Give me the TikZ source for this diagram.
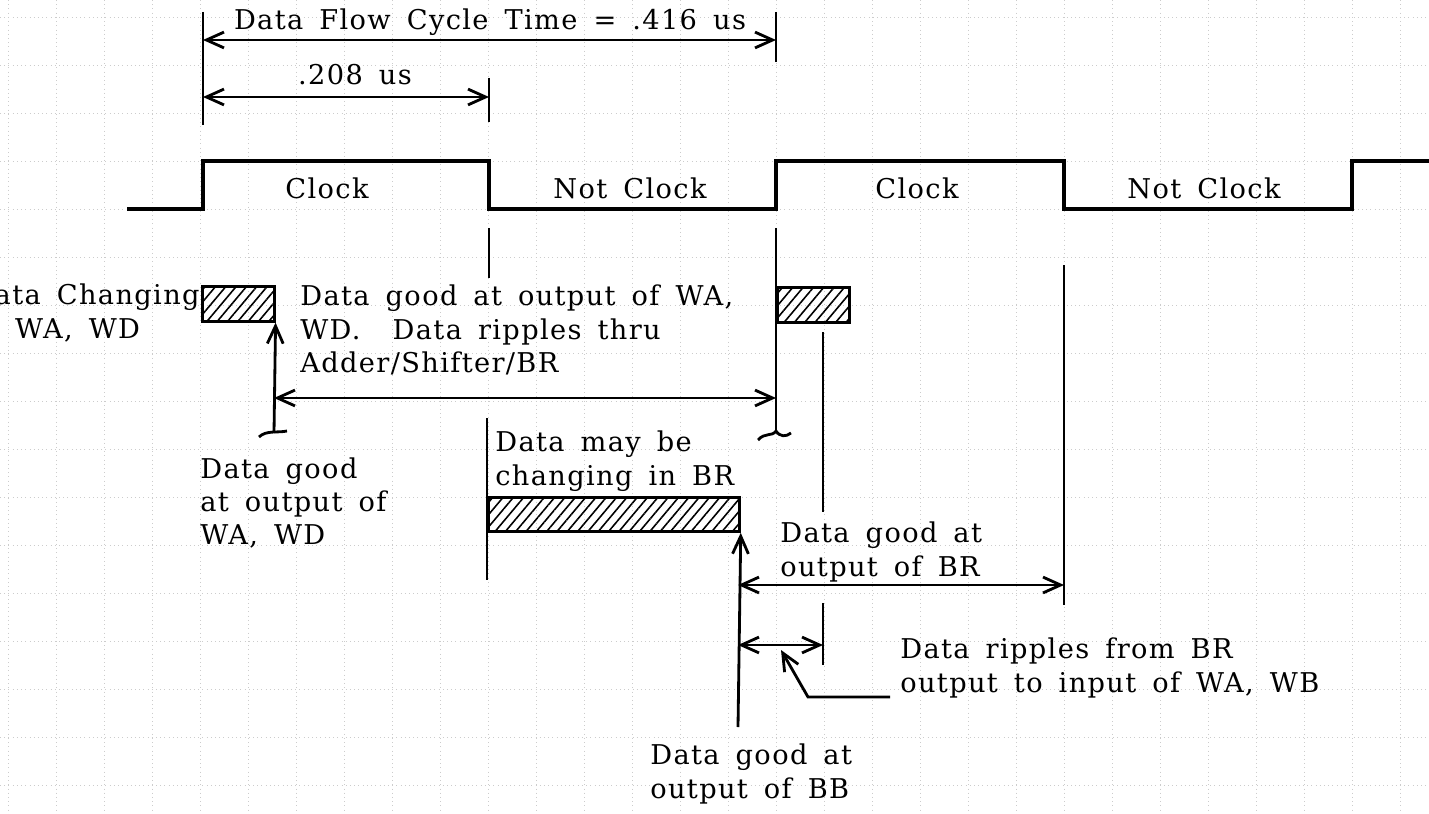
\documentclass[tikz,border=0pt]{standalone}
\usepackage{fontspec}
\setmainfont{DejaVu Serif}[LetterSpace=5, WordSpace=1.6]
\usetikzlibrary{positioning, arrows.meta, patterns.meta}

\begin{document}
\begin{tikzpicture}[
    x=0.02cm, y=-0.02cm,
    grid/.style={gray!40, dotted, line width=0.4pt},
    wave/.style={line width=2.2pt},
    vline/.style={line width=1.6pt},
    span/.style={line width=1.6pt, {Straight Barb[length=10pt,width=9pt]}-{Straight Barb[length=10pt,width=9pt]}},
    pointer/.style={line width=1.6pt, -{Straight Barb[length=10pt,width=9pt]}},
    txt/.style={font=\fontsize{15.5}{19}\selectfont, align=left, inner sep=0pt},
    hatchbox/.style={draw, line width=1.6pt, anchor=north west, minimum height=0.7cm,
        pattern={Lines[angle=50,distance=4.5pt,line width=0.9pt]}}
]
\useasboundingbox (0,0) rectangle (1429,814);

% graph paper
\foreach \gx in {8,56,...,1400} \draw[grid] (\gx,0) -- (\gx,814);
\foreach \gy in {17,65,...,785} \draw[grid] (0,\gy) -- (1429,\gy);

% clock waveform
\draw[wave] (127,209) -| (203,161) -| (489,209) -| (776,161) -| (1064,209) -| (1352,161) -- (1429,161);
\node[txt] (clkA) at (327,188) {Clock};
\node[txt] (nclkA) at (630,188) {Not Clock};
\node[txt] (clkB) at (917,188) {Clock};
\node[txt] (nclkB) at (1204,188) {Not Clock};

% cycle time and half cycle
\coordinate (cyc0) at (203,40);
\coordinate (cyc1) at (776,40);
\coordinate (half0) at (203,97);
\coordinate (half1) at (489,97);
\draw[vline] (203,12) -- (203,125);
\draw[vline] (776,12) -- (776,62);
\draw[vline] (489,78) -- (489,122);
\draw[span] (cyc0) -- (cyc1);
\draw[span] (half0) -- (half1);
\node[txt] (cycle) at (490,22) {Data Flow Cycle Time = .416 us};
\node[txt] (halfcyc) at (355,75) {.208 us};

% edge markers under the clock
\draw[vline] (489,228) -- (489,278);
\draw[vline] (776,228) -- (776,431);
\draw[vline] (758,440) .. controls (765,432) and (772,437) .. (776,431) .. controls (780,437) and (786,437) .. (791,433);
\draw[vline] (1064,265) -- (1064,605);
\draw[vline] (823,332) -- (823,512);
\draw[vline] (823,603) -- (823,665);
\draw[vline] (487,418) -- (487,580);

% data changing boxes
\node[hatchbox, minimum width=1.44cm] (chgWA) at (202,286) {};
\node[hatchbox, minimum width=1.44cm] (chgWB) at (776,286) {};
\node[hatchbox, minimum width=5.02cm, minimum height=0.68cm] (chgBR) at (487,496) {};

% WA, WD good
\coordinate (goodWA) at (274,433);
\coordinate (ripL) at (274,398);
\coordinate (ripR) at (776,398);
\draw[pointer] (goodWA) -- (chgWA.south east);
\draw[vline] (259,437) .. controls (266,430) and (278,433) .. (287,431);
\draw[span] (ripL) -- (ripR);

% BR good
\coordinate (goodBR) at (738,727);
\coordinate (brL) at (738,585);
\coordinate (brR) at (1064,585);
\coordinate (fbL) at (738,645);
\coordinate (fbR) at (823,645);
\coordinate (fbTip) at (781,650);
\coordinate (fbBend) at (808,697);
\coordinate (fbEnd) at (890,697);
\draw[pointer] (goodBR) -- (chgBR.south east);
\draw[span] (brL) -- (brR);
\draw[span] (fbL) -- (fbR);
\draw[pointer] (fbEnd) -- (fbBend) -- (fbTip);

% texts
\node[txt, anchor=east] (chgtxt) at (200,313) {Data Changing\\in WA, WD};
\node[txt, anchor=west] (riptxt) at (300,330) {Data good at output of WA,\\WD.\ \ Data ripples thru\\Adder/Shifter/BR};
\node[txt, anchor=west] (waok) at (200,503) {Data good\\at output of\\WA, WD};
\node[txt, anchor=west] (brchg) at (495,461) {Data may be\\changing in BR};
\node[txt, anchor=west] (brok) at (780,552) {Data good at\\output of BR};
\node[txt, anchor=west] (fbtxt) at (900,668) {Data ripples from BR\\output to input of WA, WB};
\node[txt, anchor=west] (bbok) at (650,774) {Data good at\\output of BB};

\end{tikzpicture}
\end{document}
